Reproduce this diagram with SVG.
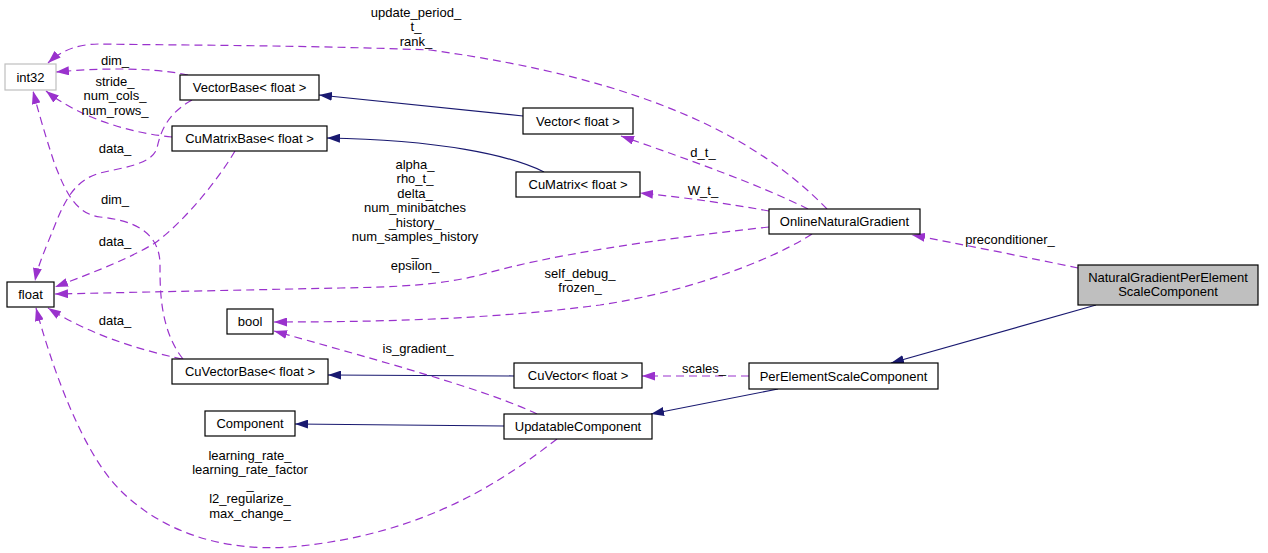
<svg xmlns="http://www.w3.org/2000/svg" width="1268" height="553" viewBox="0 0 1268 553">
<style>
  text { font-family: "Liberation Sans", Arial, sans-serif; font-size: 13px; fill: #000; text-anchor: middle; }
  .node rect { fill: #fff; stroke: #000; stroke-width: 1.2; }
  .node.ext rect { stroke: #bfbfbf; }
  .node.main rect { fill: #bfbfbf; }
  .inh { fill: none; stroke: #191970; stroke-width: 1.2; marker-end: url(#ab); }
  .use { fill: none; stroke: #9a32cd; stroke-width: 1.2; stroke-dasharray: 8,5; marker-end: url(#ap); }
</style>
<defs>
  <marker id="ab" viewBox="0 0 13 9" refX="13" refY="4.5" markerWidth="13" markerHeight="9" markerUnits="userSpaceOnUse" orient="auto">
    <path d="M0,0 L13,4.5 L0,9 z" fill="#191970" stroke="none"/>
  </marker>
  <marker id="ap" viewBox="0 0 13 9" refX="13" refY="4.5" markerWidth="13" markerHeight="9" markerUnits="userSpaceOnUse" orient="auto">
    <path d="M0,0 L13,4.5 L0,9 z" fill="#9a32cd" stroke="none"/>
  </marker>
</defs>
<rect x="0" y="0" width="1268" height="553" fill="#fff"/>

<g id="connectors">
  <path class="inh" d="M523,116 L319,95"/>
  <path class="inh" d="M544,172 C 510,155 440,140 327,138"/>
  <path class="inh" d="M514,376 L328,375"/>
  <path class="inh" d="M504,426 L295,424"/>
  <path class="inh" d="M778,389 L651,414"/>
  <path class="inh" d="M1096,305 L891,363"/>

  <path class="use" d="M827,209 C 760,140 650,80 430,50 C 300,45 150,45 100,44 C 75,44 60,52 48,63"/>
  <path class="use" d="M188,75 C 150,67 100,68 56,72"/>
  <path class="use" d="M172,137 C 130,133 80,118 46,91"/>
  <path class="use" d="M183,359 C 160,330 160,290 160,265 C 160,230 130,220 100,217 C 75,214 65,190 55,165 C 45,135 38,110 33,91"/>
  <path class="use" d="M192,100 C 165,115 160,135 157,148 C 152,165 120,168 100,173 C 75,180 65,200 55,225 C 45,250 38,265 35,281"/>
  <path class="use" d="M235,151 C 215,185 180,225 155,243 C 130,258 100,270 55,287"/>
  <path class="use" d="M769,227 C 650,240 550,255 480,275 C 440,285 400,287 340,288 L55,294"/>
  <path class="use" d="M812,234 C 780,255 700,290 600,305 C 500,318 400,322 274,322"/>
  <path class="use" d="M537,414 C 490,392 420,372 274,331"/>
  <path class="use" d="M182,359 C 140,350 90,335 48,308"/>
  <path class="use" d="M557,439 C 510,475 430,535 290,547 C 220,552 160,530 120,490 C 80,450 50,360 36,308"/>
  <path class="use" d="M808,209 C 760,185 690,160 621,136"/>
  <path class="use" d="M769,211 C 730,204 690,198 640,193"/>
  <path class="use" d="M1078,268 C 1030,258 960,244 912,235"/>
  <path class="use" d="M749,376 L642,376"/>

  <g id="edge-labels">
    <text x="416" y="16.5">update_period_</text>
    <text x="416" y="31">t_</text>
    <text x="416" y="45.5">rank_</text>
    <text x="115" y="64.5">dim_</text>
    <text x="115" y="85.5">stride_</text>
    <text x="115" y="100">num_cols_</text>
    <text x="115" y="114.5">num_rows_</text>
    <text x="115" y="152.5">data_</text>
    <text x="115" y="203.5">dim_</text>
    <text x="115" y="245.5">data_</text>
    <text x="115" y="324.5">data_</text>
    <text x="415" y="168.5">alpha_</text>
    <text x="415" y="183">rho_t_</text>
    <text x="415" y="197.5">delta_</text>
    <text x="415" y="212">num_minibatches</text>
    <text x="415" y="226.5">_history_</text>
    <text x="415" y="241">num_samples_history</text>
    <text x="415" y="255.5">_</text>
    <text x="415" y="270">epsilon_</text>
    <text x="580" y="277.5">self_debug_</text>
    <text x="580" y="291.5">frozen_</text>
    <text x="418" y="352.5">is_gradient_</text>
    <text x="703" y="156.5">d_t_</text>
    <text x="703" y="194.5">W_t_</text>
    <text x="1010" y="243.5">preconditioner_</text>
    <text x="704" y="372.5">scales_</text>
    <text x="250" y="459.5">learning_rate_</text>
    <text x="250" y="474">learning_rate_factor</text>
    <text x="250" y="488.5">_</text>
    <text x="250" y="503">l2_regularize_</text>
    <text x="250" y="517.5">max_change_</text>
  </g>
</g>

<g id="int32" class="node ext"><rect x="5" y="64" width="51" height="26"/><text x="30.5" y="81.5">int32</text></g>
<g id="VectorBase" class="node"><rect x="180" y="75" width="139" height="25"/><text x="249.5" y="92">VectorBase&lt; float &gt;</text></g>
<g id="CuMatrixBase" class="node"><rect x="172" y="126" width="155" height="25"/><text x="249.5" y="143">CuMatrixBase&lt; float &gt;</text></g>
<g id="float" class="node"><rect x="7" y="282" width="47" height="25"/><text x="30.5" y="299">float</text></g>
<g id="bool" class="node"><rect x="227" y="309" width="46" height="25"/><text x="250" y="326">bool</text></g>
<g id="CuVectorBase" class="node"><rect x="172" y="359" width="156" height="25"/><text x="250" y="376">CuVectorBase&lt; float &gt;</text></g>
<g id="Component" class="node"><rect x="205" y="411" width="90" height="25"/><text x="250" y="428">Component</text></g>
<g id="Vector" class="node"><rect x="523" y="108" width="110" height="26"/><text x="578" y="125.5">Vector&lt; float &gt;</text></g>
<g id="CuMatrix" class="node"><rect x="516" y="172" width="124" height="25"/><text x="578" y="189">CuMatrix&lt; float &gt;</text></g>
<g id="CuVector" class="node"><rect x="514" y="363" width="128" height="25"/><text x="578" y="380">CuVector&lt; float &gt;</text></g>
<g id="UpdatableComponent" class="node"><rect x="504" y="414" width="148" height="25"/><text x="578" y="431">UpdatableComponent</text></g>
<g id="OnlineNaturalGradient" class="node"><rect x="769" y="209" width="151" height="25"/><text x="844.5" y="226">OnlineNaturalGradient</text></g>
<g id="PerElementScaleComponent" class="node"><rect x="749" y="363" width="189" height="26"/><text x="843.5" y="380.5">PerElementScaleComponent</text></g>
<g id="NaturalGradientPerElementScaleComponent" class="node main"><rect x="1078" y="265" width="180" height="40"/><text x="1168" y="281.5">NaturalGradientPerElement</text><text x="1168" y="296">ScaleComponent</text></g>
</svg>
